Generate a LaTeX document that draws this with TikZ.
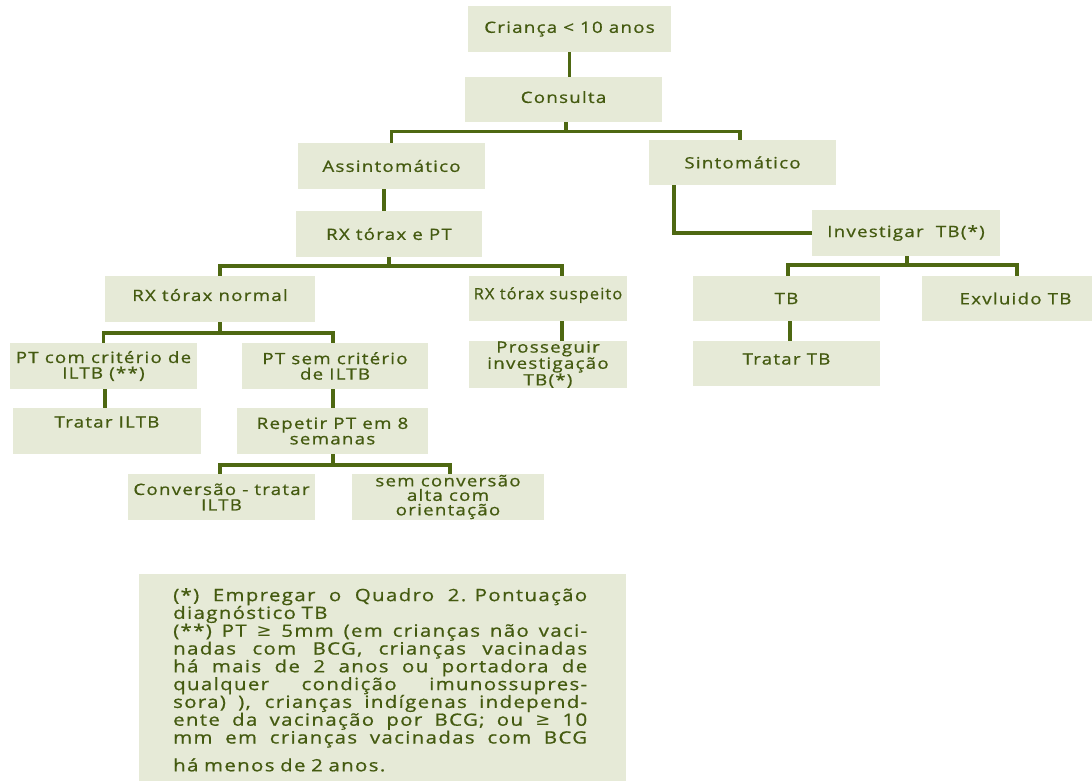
\documentclass[tikz,border=0pt]{standalone}
\usepackage{fontspec}
\usepackage{graphicx}
\setmainfont{Open Sans}[FakeStretch=1.2, LetterSpace=8, FakeBold=0.8]
\newfontfamily\symfont{DejaVu Sans}[FakeStretch=1.05]
\usetikzlibrary{calc}

\definecolor{boxfill}{RGB}{230,234,215}
\definecolor{ink}{RGB}{68,90,16}
\definecolor{wire}{RGB}{78,104,18}

\tikzset{
  box/.style={rectangle, fill=boxfill, text=ink, inner sep=0pt, align=center,
              font=\fontsize{15.6}{15.5}\selectfont},
  wh/.style 2 args={minimum width=#1, minimum height=#2},
  conn/.style={draw=wire, line width=3.5pt},
  notebox/.style={rectangle, fill=boxfill, text=ink, inner xsep=34pt, inner ysep=14pt,
                  text width=419pt, align=left, font=\fontsize{17}{17.8}\selectfont},
}

% a footnote line whose word spaces stretch to the full measure
\newcommand{\jline}[1]{\makebox[414pt][s]{\spaceskip=0.32em plus 20em\relax #1}}

\begin{document}
\begin{tikzpicture}[x=1pt, y=-1pt]
  \clip (0,0) rectangle (1092,780);
  \fill[white] (0,0) rectangle (1092,780);

  % flowchart boxes
  \node[box, wh={203}{46}] (top)  at (569.5,29)  {Criança < 10 anos};
  \node[box, wh={197}{45}, text depth=5pt] (cons) at (563.5,99.5) {Consulta};
  \node[box, wh={187}{46}] (asym) at (391.5,166) {Assintomático};
  \node[box, wh={187}{45}] (sint) at (742.5,162.5) {Sintomático};
  \node[box, wh={186}{46}] (rxpt) at (389,234)   {RX tórax e PT};
  \node[box, wh={188}{46}] (inv)  at (906,233)   {Investigar\ \ TB(*)};
  \node[box, wh={187}{45}] (tb)   at (786.5,298.5) {TB};
  \node[box, wh={187}{45}] (excl) at (1015.5,298.5) {Exvluido TB};
  \node[box, wh={187}{45}, text depth=9pt] (trtb) at (786.5,363.5) {Tratar TB};
  \node[box, wh={210}{46}, text depth=8pt] (rxn)  at (210,299)  {RX tórax normal};
  \node[box, wh={158}{45}, text depth=10.5pt] (rxs) at (548,298.5) {\scalebox{0.88}[1]{RX tórax suspeito}};
  \node[box, wh={187}{46}] (ptc)  at (103.5,366) {PT com critério de\\ILTB (**)};
  \node[box, wh={186}{46}] (pts)  at (335,366)   {PT sem critério\\de ILTB};
  \node[box, wh={158}{45}, font=\fontsize{15.6}{15}\selectfont] (pros) at (548,364.5) {Prosseguir\\investigação\\TB(*)};
  \node[box, wh={188}{46}, text depth=18pt] (trat) at (107,431) {Tratar ILTB};
  \node[box, wh={191}{46}] (rep)  at (332.5,431) {Repetir PT em 8\\semanas};
  \node[box, wh={187}{46}] (conv) at (221.5,497) {Conversão - tratar\\ILTB};
  \node[box, wh={192}{46}, font=\fontsize{15.6}{14.5}\selectfont] (semc) at (448,497) {sem conversão\\alta com\\orientação};

  % connectors
  \draw[conn] (top.south) -- (top.south |- cons.north);
  \draw[conn] ([xshift=2.5]cons.south) -- ++(0,9.5) coordinate (b1);
  \draw[conn] (asym.north) |- (b1) -| ([xshift=-2.5]sint.north);
  \draw[conn] ([xshift=-5]rxpt.north) -- ([xshift=-5]rxpt.north |- asym.south);
  \draw[conn] ([xshift=25]sint.south west) |- (inv.west);
  \draw[conn] ([xshift=1]inv.south) -- ++(0,9) coordinate (b2);
  \draw[conn] ([xshift=1.5]tb.north) |- (b2) -| ([xshift=1.5]excl.north);
  \draw[conn] ([xshift=3.5]tb.south) -- ([xshift=3.5]trtb.north);
  \draw[conn] (rxpt.south) -- ++(0,9) coordinate (b3);
  \draw[conn] ([xshift=10]rxn.north) |- (b3) -| ([xshift=14]rxs.north);
  \draw[conn] ([xshift=14]rxs.south) -- ([xshift=14]pros.north);
  \draw[conn] ([xshift=10]rxn.south) -- ++(0,11) coordinate (b4);
  \draw[conn] (ptc.north) |- (b4) -| ([xshift=-2]pts.north);
  \draw[conn] ([xshift=1.5]ptc.south) -- ([xshift=1.5]ptc.south |- trat.north);
  \draw[conn] ([xshift=-2]pts.south) -- ([xshift=-2]pts.south |- rep.north);
  \draw[conn] ([xshift=0.5]rep.south) -- ++(0,11) coordinate (b5);
  \draw[conn] ([xshift=-1.5]conv.north) |- (b5) -| ([xshift=2]semc.north);

  % footnote
  \node[notebox, anchor=north west] (note) at (139,574) {%
    \jline{(*) Empregar o Quadro 2. Pontuação}\\
    diagnóstico TB\\
    \jline{(**) PT {\symfont ≥} 5mm (em crianças não vaci-}\\
    \jline{nadas com BCG, crianças vacinadas}\\
    \jline{há mais de 2 anos ou portadora de}\\
    \jline{qualquer condição imunossupres-}\\
    \jline{sora) ), crianças indígenas independ-}\\
    \jline{ente da vacinação por BCG; ou {\symfont ≥} 10}\\
    \jline{mm em crianças vacinadas com BCG}\\[10pt]
    há menos de 2 anos.};
\end{tikzpicture}
\end{document}
